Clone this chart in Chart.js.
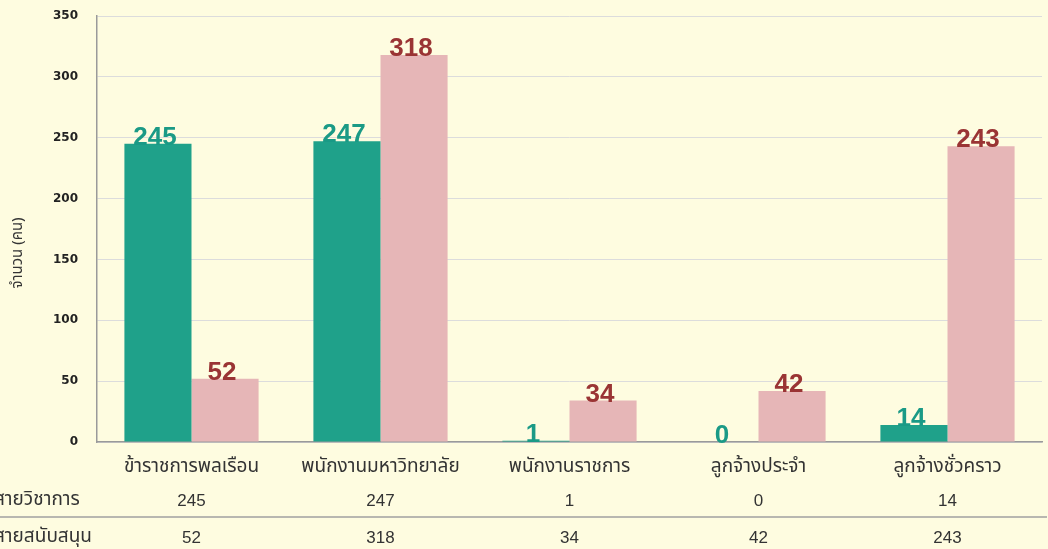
<!DOCTYPE html>
<html>
<head>
<meta charset="utf-8">
<script src="https://cdn.jsdelivr.net/npm/chart.js@4"></script>
<style>
  html, body { margin: 0; padding: 0; background: #FEFCE0; }
  #wrap { width: 1048px; height: 549px; }
</style>
</head>
<body>
<div id="wrap"><canvas id="staffChart"></canvas></div>
<script>
// categories and values
const categories = ['ข้าราชการพลเรือน', 'พนักงานมหาวิทยาลัย', 'พนักงานราชการ', 'ลูกจ้างประจำ', 'ลูกจ้างชั่วคราว'];
const seriesNames = ['สายวิชาการ', 'สายสนับสนุน'];
const academic = [245, 247, 1, 0, 14];
const support = [52, 318, 34, 42, 243];
const yTicks = [0, 50, 100, 150, 200, 250, 300, 350];

const thaiFont = 'Tahoma, "Noto Sans Thai", "Noto Sans", sans-serif';
const barColors = ['#1FA18A', '#E6B6B7'];
const labelColors = ['#1A9A86', '#9A3434'];

// background, value labels on bars, y title and the data table below
const extrasPlugin = {
    id: 'extras',
    beforeDraw(chart) {
        const ctx = chart.ctx;
        ctx.save();
        ctx.fillStyle = '#FEFCE0';
        ctx.fillRect(0, 0, chart.width, chart.height);
        ctx.restore();
    },
    afterDatasetsDraw(chart) {
        const ctx = chart.ctx;
        ctx.save();
        ctx.font = 'bold 26px "Liberation Sans", Arial, sans-serif';
        ctx.textAlign = 'center';
        ctx.textBaseline = 'alphabetic';
        chart.data.datasets.forEach((ds, i) => {
            chart.getDatasetMeta(i).data.forEach((bar, j) => {
                ctx.fillStyle = labelColors[i];
                ctx.fillText(ds.data[j], bar.x - 3, bar.y + 1);
            });
        });
        ctx.restore();
    },
    afterDraw(chart) {
        const ctx = chart.ctx;
        const x = chart.scales.x;
        ctx.save();
        // y axis title
        ctx.translate(19, 253);
        ctx.rotate(-Math.PI / 2);
        ctx.fillStyle = '#333';
        ctx.font = '15px ' + thaiFont;
        ctx.textAlign = 'center';
        ctx.textBaseline = 'middle';
        ctx.fillText('จำนวน (คน)', 0, 0);
        ctx.restore();

        // data table
        ctx.save();
        ctx.fillStyle = '#333';
        ctx.textBaseline = 'middle';
        const rows = [academic, support];
        const rowY = [501, 538];
        rows.forEach((vals, r) => {
            ctx.font = '19px ' + thaiFont;
            ctx.textAlign = 'left';
            ctx.fillText(seriesNames[r], -6, rowY[r]);
            ctx.font = '17px "Liberation Sans", Arial, sans-serif';
            ctx.textAlign = 'center';
            vals.forEach((v, j) => {
                ctx.fillText(String(v), x.getPixelForValue(j), rowY[r]);
            });
        });
        ctx.strokeStyle = '#A0A0A0';
        ctx.lineWidth = 1.5;
        ctx.beginPath();
        ctx.moveTo(0, 517);
        ctx.lineTo(1047, 517);
        ctx.stroke();
        ctx.restore();
    }
};

new Chart(document.getElementById('staffChart'), {
    type: 'bar',
    data: {
        labels: categories,
        datasets: [
            { label: seriesNames[0], data: academic, backgroundColor: barColors[0] },
            { label: seriesNames[1], data: support, backgroundColor: barColors[1] }
        ]
    },
    options: {
        responsive: true,
        maintainAspectRatio: false,
        animation: false,
        layout: { autoPadding: false, padding: { left: 0, top: 16, right: 6, bottom: 0 } },
        datasets: { bar: { categoryPercentage: 0.71, barPercentage: 1.0 } },
        plugins: {
            legend: { display: false },
            tooltip: { enabled: false }
        },
        scales: {
            x: {
                grid: { display: false },
                border: { display: true, color: '#9A9A9A', width: 1.5 },
                ticks: { color: '#333', font: { family: thaiFont, size: 19 }, padding: 7, maxRotation: 0 },
                afterFit: s => { s.height = 107; }
            },
            y: {
                min: 0,
                max: 350,
                afterBuildTicks: s => { s.ticks = yTicks.map(v => ({ value: v })); },
                // invisible tick marks push the labels left without adding top padding
                grid: { color: '#DCDCDC', drawTicks: true, tickLength: 16, tickColor: 'rgba(0,0,0,0)' },
                border: { display: true, color: '#9A9A9A', width: 1.5 },
                ticks: { color: '#222', font: { family: '"DejaVu Sans", Verdana, sans-serif', size: 12, weight: 'bold' }, padding: 3 },
                afterFit: s => { s.width = 97; }
            }
        }
    },
    plugins: [extrasPlugin]
});
</script>
</body>
</html>
